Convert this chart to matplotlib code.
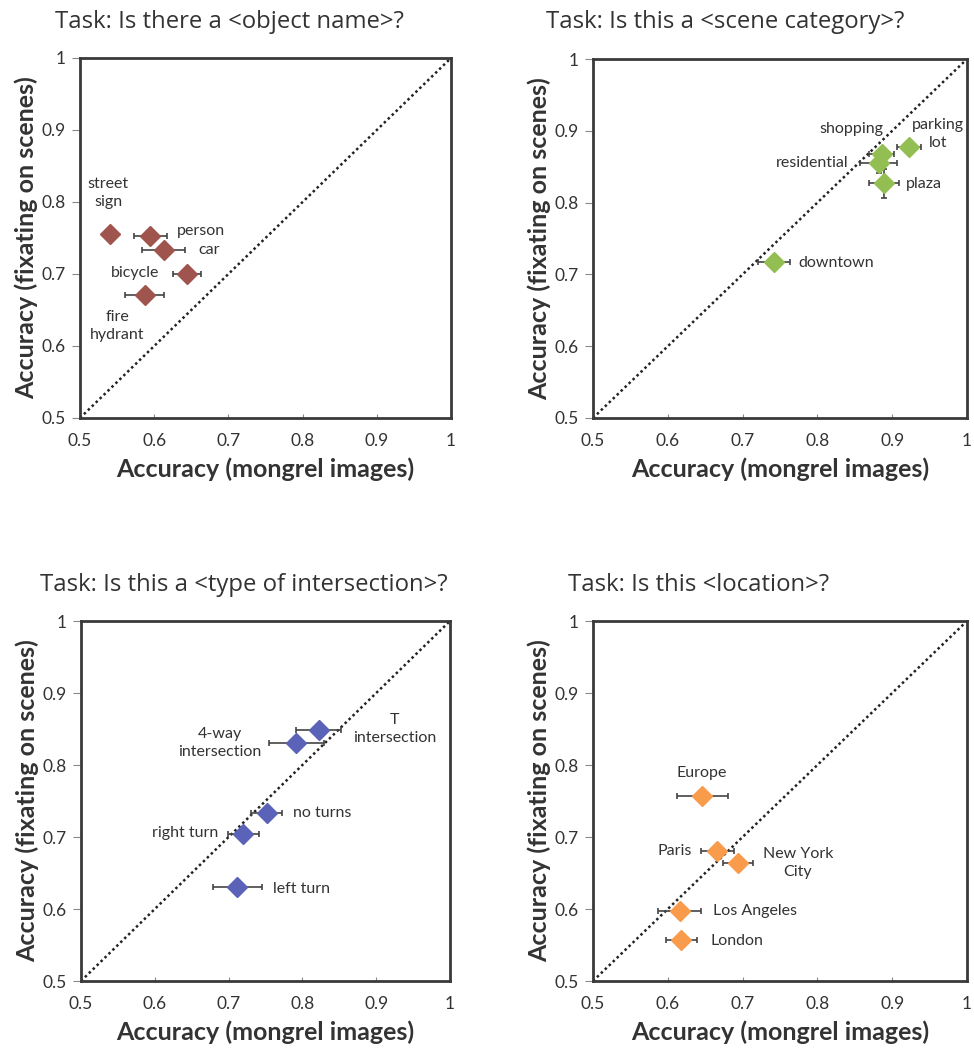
import matplotlib.pyplot as plt
import numpy as np

plt.rcParams['font.family'] = ['Open Sans', 'DejaVu Sans']

# panel 1: objects
obj_names = ['street\nsign', 'person', 'car', 'bicycle', 'fire\nhydrant']
obj_x = [0.541, 0.595, 0.613, 0.644, 0.587]
obj_y = [0.756, 0.753, 0.734, 0.700, 0.671]
obj_xerr = [0.009, 0.022, 0.029, 0.019, 0.026]
obj_yerr = [0.0, 0.0, 0.0, 0.0, 0.0]

# panel 2: scene categories
scene_names = ['parking\nlot', 'shopping', 'residential', 'plaza', 'downtown']
scene_x = [0.923, 0.886, 0.882, 0.889, 0.742]
scene_y = [0.877, 0.868, 0.855, 0.827, 0.717]
scene_xerr = [0.016, 0.017, 0.025, 0.020, 0.022]
scene_yerr = [0.0, 0.008, 0.014, 0.020, 0.0]

# panel 3: intersections
inter_names = ['T\nintersection', '4-way\nintersection', 'no turns', 'right turn', 'left turn']
inter_x = [0.822, 0.792, 0.752, 0.720, 0.712]
inter_y = [0.848, 0.830, 0.733, 0.704, 0.631]
inter_xerr = [0.030, 0.037, 0.021, 0.021, 0.033]
inter_yerr = [0.0, 0.0, 0.0, 0.0, 0.0]

# panel 4: locations
loc_names = ['Europe', 'Paris', 'New York\nCity', 'Los Angeles', 'London']
loc_x = [0.646, 0.666, 0.694, 0.616, 0.618]
loc_y = [0.757, 0.680, 0.664, 0.597, 0.557]
loc_xerr = [0.034, 0.022, 0.020, 0.029, 0.021]
loc_yerr = [0.0, 0.0, 0.0, 0.0, 0.0]

ticks = [0.5, 0.6, 0.7, 0.8, 0.9, 1.0]
tick_labels = ['0.5', '0.6', '0.7', '0.8', '0.9', '1']

# label placement: (x, y, ha)
obj_lab = [(0.538, 0.812, 'center'), (0.630, 0.760, 'left'), (0.659, 0.733, 'left'),
           (0.574, 0.702, 'center'), (0.550, 0.628, 'center')]
scene_lab = [(0.961, 0.896, 'center'), (0.845, 0.903, 'center'), (0.842, 0.855, 'right'),
             (0.918, 0.826, 'left'), (0.775, 0.716, 'left')]
inter_lab = [(0.925, 0.850, 'center'), (0.688, 0.831, 'center'), (0.787, 0.733, 'left'),
             (0.686, 0.706, 'right'), (0.760, 0.628, 'left')]
loc_lab = [(0.645, 0.789, 'center'), (0.632, 0.680, 'right'), (0.774, 0.664, 'center'),
           (0.660, 0.597, 'left'), (0.657, 0.556, 'left')]

panels = [
    ('Task: Is there a <object name>?', obj_names, obj_x, obj_y, obj_xerr, obj_yerr, obj_lab, '#a0544e'),
    ('Task: Is this a <scene category>?', scene_names, scene_x, scene_y, scene_xerr, scene_yerr, scene_lab, '#93bf52'),
    ('Task: Is this a <type of intersection>?', inter_names, inter_x, inter_y, inter_xerr, inter_yerr, inter_lab, '#5a63b8'),
    ('Task: Is this <location>?', loc_names, loc_x, loc_y, loc_xerr, loc_yerr, loc_lab, '#f89c4c'),
]

W, H = 974, 1053
fig = plt.figure(figsize=(W / 100, H / 100), dpi=100)

# axes boxes in pixels: left, top, right, bottom
boxes = [(80, 58, 451, 418), (593, 59, 967, 418), (81, 621, 450, 981), (593, 621, 967, 981)]
title_pos = [(55, 22), (546, 22), (40, 585), (568, 585)]

lab_font = ['Lato', 'DejaVu Sans']

for (title, names, xs, ys, xe, ye, labs, col), box, tpos in zip(panels, boxes, title_pos):
    l, t, r, b = box
    ax = fig.add_axes([l / W, 1 - b / H, (r - l) / W, (b - t) / H])
    ax.plot([0.5, 1], [0.5, 1], ls=(0, (1, 1.2)), color='#222222', lw=1.8, zorder=1)
    ax.errorbar(xs, ys, xerr=xe, yerr=ye, fmt='D', color=col, ms=10.5, mec=col,
                ecolor='#444444', elinewidth=1.2, capsize=2.5, capthick=1.2, zorder=3)
    for name, (lx, ly, ha) in zip(names, labs):
        ax.text(lx, ly, name, ha=ha, va='center', fontsize=11.5, color='#333333',
                family=lab_font, linespacing=1.35, zorder=4)
    ax.set_xlim(0.5, 1)
    ax.set_ylim(0.5, 1)
    ax.set_xticks(ticks)
    ax.set_xticklabels(tick_labels, family=lab_font)
    ax.set_yticks(ticks)
    ax.set_yticklabels(tick_labels, family=lab_font)
    ax.tick_params(axis='y', direction='out', length=6, width=0.8, color='#888888',
                   labelsize=12.5, labelcolor='#333333', pad=4)
    ax.tick_params(axis='x', direction='in', length=3, width=0.8, color='#888888',
                   labelsize=12.5, labelcolor='#333333', pad=11)
    for s in ax.spines.values():
        s.set_linewidth(2)
        s.set_color('#3a3a3a')
    ax.set_xlabel('Accuracy (mongrel images)', fontsize=18, fontweight='bold',
                  color='#333333', family=lab_font, labelpad=6)
    ax.set_ylabel('Accuracy (fixating on scenes)', fontsize=18, fontweight='bold',
                  color='#333333', family=lab_font, labelpad=3)
    fig.text(tpos[0] / W, 1 - tpos[1] / H, title, ha='left', va='center',
             fontsize=17.2, color='#333333')

fig.savefig('out.png', dpi=100)
